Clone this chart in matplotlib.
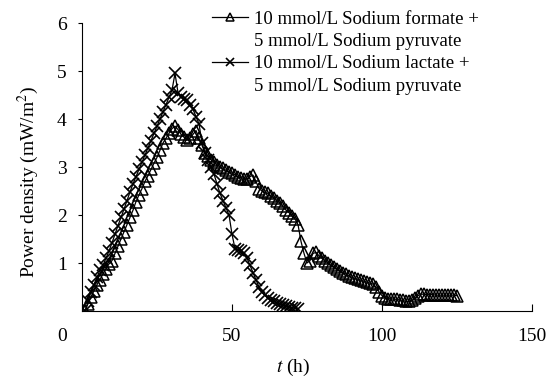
import matplotlib.pyplot as plt
from matplotlib.lines import Line2D
from matplotlib.transforms import ScaledTranslation

plt.rcParams['font.family'] = 'Liberation Serif'
plt.rcParams['mathtext.fontset'] = 'stix'

# time (h) and power density (mW/m2)
t_formate = [1, 2, 3, 4, 5, 6, 7, 8, 9, 10, 11, 12, 13, 14, 15, 16, 17, 18, 19, 20,
             21, 22, 23, 24, 25, 26, 27, 28, 29, 30, 31, 32, 33, 34, 35, 36, 37, 38, 39, 40,
             41, 42, 43, 44, 45, 46, 47, 48, 49, 50, 51, 52, 53, 54, 55, 56, 57, 58, 59, 60,
             61, 62, 63, 64, 65, 66, 67, 68, 69, 70, 71, 72, 73, 74, 75, 76, 77, 78, 79, 80,
             81, 82, 83, 84, 85, 86, 87, 88, 89, 90, 91, 92, 93, 94, 95, 96, 97, 98, 99, 100,
             101, 102, 103, 104, 105, 106, 107, 108, 109, 110, 111, 112, 113, 114, 115, 116,
             117, 118, 119, 120, 121, 122, 123, 124, 125]
p_formate = [0.0, 0.15, 0.3, 0.42, 0.55, 0.65, 0.78, 0.88, 0.98, 1.05, 1.2, 1.35, 1.5, 1.65,
             1.8, 1.95, 2.1, 2.28, 2.42, 2.55, 2.7, 2.82, 2.95, 3.08, 3.2, 3.35, 3.5, 3.6, 3.7,
             3.8, 3.85, 3.78, 3.68, 3.62, 3.57, 3.6, 3.68, 3.76, 3.6, 3.45, 3.3, 3.22, 3.15,
             3.1, 3.05, 3.0, 2.97, 2.93, 2.9, 2.87, 2.84, 2.8, 2.78, 2.76, 2.75, 2.8, 2.83, 2.7,
             2.55, 2.5, 2.47, 2.45, 2.4, 2.35, 2.3, 2.25, 2.18, 2.1, 2.05, 1.98, 1.92, 1.8,
             1.45, 1.2, 1.0, 1.05, 1.2, 1.22, 1.15, 1.1, 1.05, 1.0, 0.95, 0.92, 0.88, 0.84,
             0.8, 0.77, 0.73, 0.7, 0.68, 0.66, 0.64, 0.62, 0.6, 0.58, 0.56, 0.5, 0.4, 0.32,
             0.28, 0.26, 0.25, 0.25, 0.24, 0.23, 0.22, 0.2, 0.2, 0.22, 0.27, 0.32, 0.35, 0.35,
             0.34, 0.34, 0.34, 0.33, 0.33, 0.33, 0.33, 0.33, 0.33, 0.33, 0.32]

t_lactate = [1, 2, 3, 4, 5, 6, 7, 8, 9, 10, 11, 12, 13, 14, 15, 16, 17, 18, 19, 20,
             21, 22, 23, 24, 25, 26, 27, 28, 29, 30, 31, 32, 33, 34, 35, 36, 37, 38, 39, 40,
             41, 42, 43, 44, 45, 46, 47, 48, 49, 50, 51, 52, 53, 54, 55, 56, 57, 58, 59, 60,
             61, 62, 63, 64, 65, 66, 67, 68, 69, 70, 71, 72]
p_lactate = [0.0, 0.2, 0.4, 0.55, 0.7, 0.85, 0.95, 1.1, 1.25, 1.42, 1.6, 1.78, 1.95, 2.12,
             2.3, 2.48, 2.65, 2.8, 2.95, 3.1, 3.25, 3.4, 3.55, 3.7, 3.85, 4.0, 4.15, 4.3, 4.45,
             4.6, 4.95, 4.55, 4.45, 4.42, 4.4, 4.3, 4.2, 4.05, 3.9, 3.5, 3.3, 3.15, 3.0, 2.85,
             2.65, 2.45, 2.3, 2.15, 2.0, 1.6, 1.3, 1.27, 1.25, 1.2, 1.1, 0.95, 0.8, 0.65, 0.5,
             0.4, 0.33, 0.28, 0.23, 0.2, 0.17, 0.14, 0.12, 0.1, 0.08, 0.07, 0.06, 0.05]

labels = ['10 mmol/L Sodium formate +', '5 mmol/L Sodium pyruvate',
          '10 mmol/L Sodium lactate +', '5 mmol/L Sodium pyruvate']

fig = plt.figure(figsize=(5.5, 3.78), dpi=100)
ax = fig.add_axes([82 / 550, 67 / 378, 450 / 550, 288 / 378])

l1, = ax.plot(t_formate, p_formate, color='black', lw=0.9, marker='^', ms=8,
              mfc='none', mec='black', mew=1.1)
l2, = ax.plot(t_lactate, p_lactate, color='black', lw=0.9, marker='x', ms=8,
              mec='black', mew=1.2)

ax.set_xlim(0, 150)
ax.set_ylim(0, 6)
ax.set_xticks([0, 50, 100, 150])
ax.set_yticks([1, 2, 3, 4, 5, 6])
ax.spines['top'].set_visible(False)
ax.spines['right'].set_visible(False)
ax.tick_params(axis='x', direction='in', length=5, pad=12, labelsize=14)
ax.tick_params(axis='y', direction='out', length=3, pad=8, labelsize=14)

# the "0" label sits left of the axis corner in the original
zero = ax.get_xticklabels()[0]
zero.set_transform(zero.get_transform() + ScaledTranslation(-20 / 100, 0, fig.dpi_scale_trans))

ax.set_xlabel(r'$t$ (h)', fontsize=14)
ax.xaxis.set_label_coords(0.47, -0.16)
ax.set_ylabel(r'Power density (mW/m$^2$)', fontsize=14)
ax.yaxis.set_label_coords(-0.09, 0.45)

blank = Line2D([], [], color='none')
ax.legend([l1, blank, l2, blank], labels, loc='upper left',
          bbox_to_anchor=(203 / 550, 1 - 1 / 378), bbox_transform=fig.transFigure,
          frameon=False, fontsize=13.5, handlelength=1.9, handletextpad=0.3,
          labelspacing=0.28, borderpad=0, markerscale=0.7)

fig.savefig('out.png', dpi=100)
